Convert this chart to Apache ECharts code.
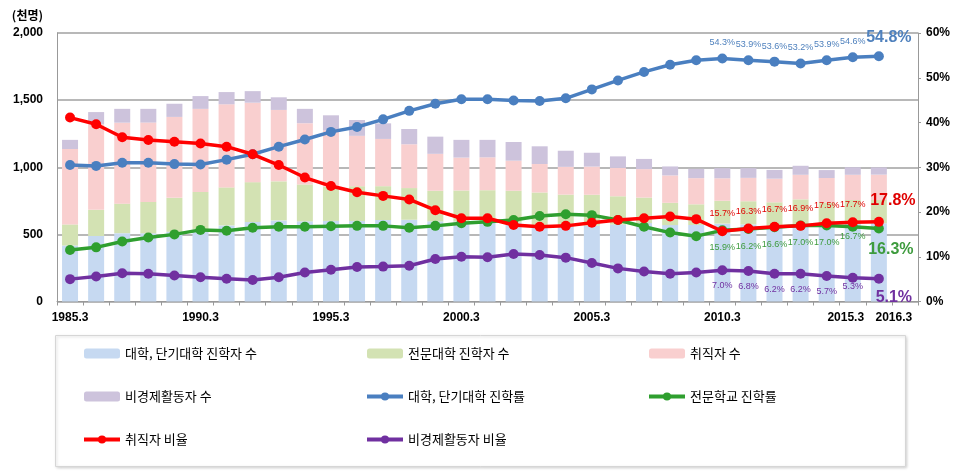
<!DOCTYPE html>
<html><head><meta charset="utf-8">
<script src="https://cdn.jsdelivr.net/npm/echarts@6/dist/echarts.min.js"></script>
<style>html,body{margin:0;padding:0;background:#fff}#c{width:960px;height:474px}</style>
</head><body><div id="c"></div><script>
const years = ['1985.3','1986.3','1987.3','1988.3','1989.3','1990.3','1991.3','1992.3','1993.3','1994.3','1995.3','1996.3','1997.3','1998.3','1999.3','2000.3','2001.3','2002.3','2003.3','2004.3','2005.3','2006.3','2007.3','2008.3','2009.3','2010.3','2011.3','2012.3','2013.3','2014.3','2015.3','2016.3'];
// stacked bars (thousand persons)
const univCount   = [417,488,509,508,519,536,567,592,604,597,600,599,607,609,597,596,595,587,569,557,565,573,584,569,570,580,574,564,577,561,579,583];
const collegeCount= [157,195,220,234,253,280,283,297,291,275,255,260,252,236,228,231,234,238,243,239,230,211,190,166,154,170,173,175,184,177,177,173];
const employCount = [562,638,603,591,603,619,619,592,532,456,420,375,352,326,275,245,245,224,212,207,210,211,212,204,195,168,174,176,183,182,188,189];
const inactiveCount=[68,90,103,102,98,95,91,86,94,107,112,118,116,114,128,132,130,139,132,120,103,86,76,67,69,75,72,65,67,59,56,54];
// rates (%)
const univRate    = [30.5,30.3,31.0,31.0,30.7,30.6,31.7,32.9,34.6,36.2,37.9,39.0,40.7,42.6,44.2,45.2,45.2,44.9,44.8,45.4,47.4,49.4,51.3,52.9,53.9,54.3,53.9,53.6,53.2,53.9,54.6,54.8];
const collegeRate = [11.5,12.1,13.4,14.3,15.0,16.0,15.8,16.5,16.7,16.7,16.8,16.9,16.9,16.5,16.9,17.5,17.8,18.2,19.1,19.5,19.3,18.2,16.7,15.4,14.6,15.9,16.2,16.6,17.0,17.0,16.7,16.3];
const employRate  = [41.1,39.6,36.7,36.1,35.7,35.3,34.6,32.9,30.5,27.7,25.8,24.4,23.6,22.8,20.4,18.6,18.6,17.1,16.7,16.9,17.6,18.2,18.6,19.0,18.4,15.7,16.3,16.7,16.9,17.5,17.7,17.8];
const inactiveRate= [5.0,5.6,6.3,6.2,5.8,5.4,5.1,4.8,5.4,6.5,7.1,7.7,7.8,8.0,9.5,10.0,9.9,10.6,10.4,9.8,8.6,7.4,6.7,6.2,6.5,7.0,6.8,6.2,6.2,5.7,5.3,5.1];
const leftTicks = {min:0, max:2000, interval:500};
const rightTicks = {min:0, max:60, interval:10};
const labelYears = [0,5,10,15,20,25,30,31];
const labelFrom = 25;

const names = ['대학, 단기대학 진학자 수','전문대학 진학자 수','취직자 수','비경제활동자 수','대학, 단기대학 진학률','전문학교 진학률','취직자 비율','비경제활동자 비율'];
const font = '"Liberation Sans", Arial, sans-serif';
const kfont = '"Noto Sans CJK KR", sans-serif';

function withLabels(vals, color, pos, dist, bigOffset, smallOffsets) {
  const last = vals.length - 1;
  return vals.map((v, i) => {
    if (i < labelFrom) return v;
    if (i === last) return {value: v, label: {show: true, position: pos, distance: dist, fontSize: 16, fontWeight: 'bold', color: color, offset: bigOffset}};
    return {value: v, label: {show: true, position: pos, distance: dist, fontSize: 9, color: color, offset: (smallOffsets && smallOffsets[i]) || [0,0]}};
  });
}

function bar(name, data, color) {
  return {name, type: 'bar', stack: 'tot', yAxisIndex: 0, barWidth: 16, data, itemStyle: {color}, z: 1};
}
function line(name, data, color, z) {
  return {name, type: 'line', yAxisIndex: 1, data, symbol: 'circle', symbolSize: 10, z: z,
    lineStyle: {color, width: 3.5}, itemStyle: {color},
    label: {show: false, fontFamily: font, formatter: p => p.value.toFixed(1) + '%'}};
}

const chart = echarts.init(document.getElementById('c'), null, {renderer: 'canvas'});
const catData = years.concat(['']);
const legendText = {fontFamily: kfont, fontSize: 13, color: '#000', lineHeight: 13};
const legendBase = {top: 342, orient: 'vertical', itemGap: 30, itemWidth: 36, itemHeight: 10, textStyle: legendText, lineStyle: {width: 4}};
chart.setOption({
  animation: false,
  textStyle: {fontFamily: font},
  grid: {left: 57, right: 42, top: 33, bottom: 172.5, containLabel: false},
  xAxis: {
    type: 'category', data: catData, boundaryGap: true,
    axisLine: {lineStyle: {color: '#999', width: 1}},
    axisTick: {show: true, interval: 0, length: 4, lineStyle: {color: '#999'}},
    axisLabel: {
      interval: (idx) => labelYears.includes(idx),
      fontSize: 12, fontWeight: 'bold', color: '#000', margin: 10,
      formatter: (v, i) => i === 30 ? '{l|' + v + '}' : (i === 31 ? '{r|' + v + '}' : v),
      rich: {
        l: {padding: [0, 14, 0, 0], fontSize: 12, fontWeight: 'bold', color: '#000', fontFamily: font},
        r: {padding: [0, 0, 0, 30], fontSize: 12, fontWeight: 'bold', color: '#000', fontFamily: font}
      }
    }
  },
  yAxis: [
    {type: 'value', min: leftTicks.min, max: leftTicks.max, interval: leftTicks.interval,
     name: '(천명)', nameLocation: 'end', nameGap: 12,
     nameTextStyle: {align: 'right', padding: [0, 14, 0, 0], fontSize: 12, fontWeight: 'bold', color: '#000', fontFamily: kfont},
     axisLine: {show: true, lineStyle: {color: '#999'}}, axisTick: {show: false},
     axisLabel: {fontSize: 12, fontWeight: 'bold', color: '#000', margin: 14, formatter: v => v.toLocaleString('en-US')},
     splitLine: {lineStyle: {color: '#a0a0a0', width: 1.5}}},
    {type: 'value', min: rightTicks.min, max: rightTicks.max, interval: rightTicks.interval, position: 'right',
     axisLine: {show: true, lineStyle: {color: '#999'}}, axisTick: {show: true, length: 3, inside: false, lineStyle: {color: '#999'}},
     axisLabel: {fontSize: 12, fontWeight: 'bold', color: '#000', margin: 8, formatter: v => v + '%'},
     splitLine: {show: false}}
  ],
  legend: [
    Object.assign({left: 77, data: [names[0], names[3], names[6]]}, legendBase),
    Object.assign({left: 360, data: [names[1], names[4], names[7]]}, legendBase),
    Object.assign({left: 642, data: [names[2], names[5]]}, legendBase)
  ],
  graphic: [{type: 'rect', left: 55, top: 335, z: -10, silent: true,
    shape: {width: 850, height: 131},
    style: {fill: '#fff', stroke: '#d6d6d6', lineWidth: 1, shadowBlur: 3, shadowColor: 'rgba(0,0,0,0.18)', shadowOffsetX: 1, shadowOffsetY: 1}}],
  series: [
    bar(names[0], univCount, '#c6d9f1'),
    bar(names[1], collegeCount, '#d3e2b3'),
    bar(names[2], employCount, '#f9cfcf'),
    bar(names[3], inactiveCount, '#cdc3dc'),
    line(names[4], withLabels(univRate, '#4f81bd', 'top', 6, [10, 0]), '#4a7fc0', 5),
    line(names[5], withLabels(collegeRate, '#3d9b3d', 'bottom', 8, [12, 0], {30: [0, -8]}), '#2f9f2f', 6),
    line(names[6], withLabels(employRate, '#e00000', 'top', 8, [14, 0]), '#ff0000', 7),
    line(names[7], withLabels(inactiveRate, '#7030a0', 'bottom', 6, [15, 0], {30: [0, -7]}), '#7030a0', 8)
  ]
});
</script></body></html>
